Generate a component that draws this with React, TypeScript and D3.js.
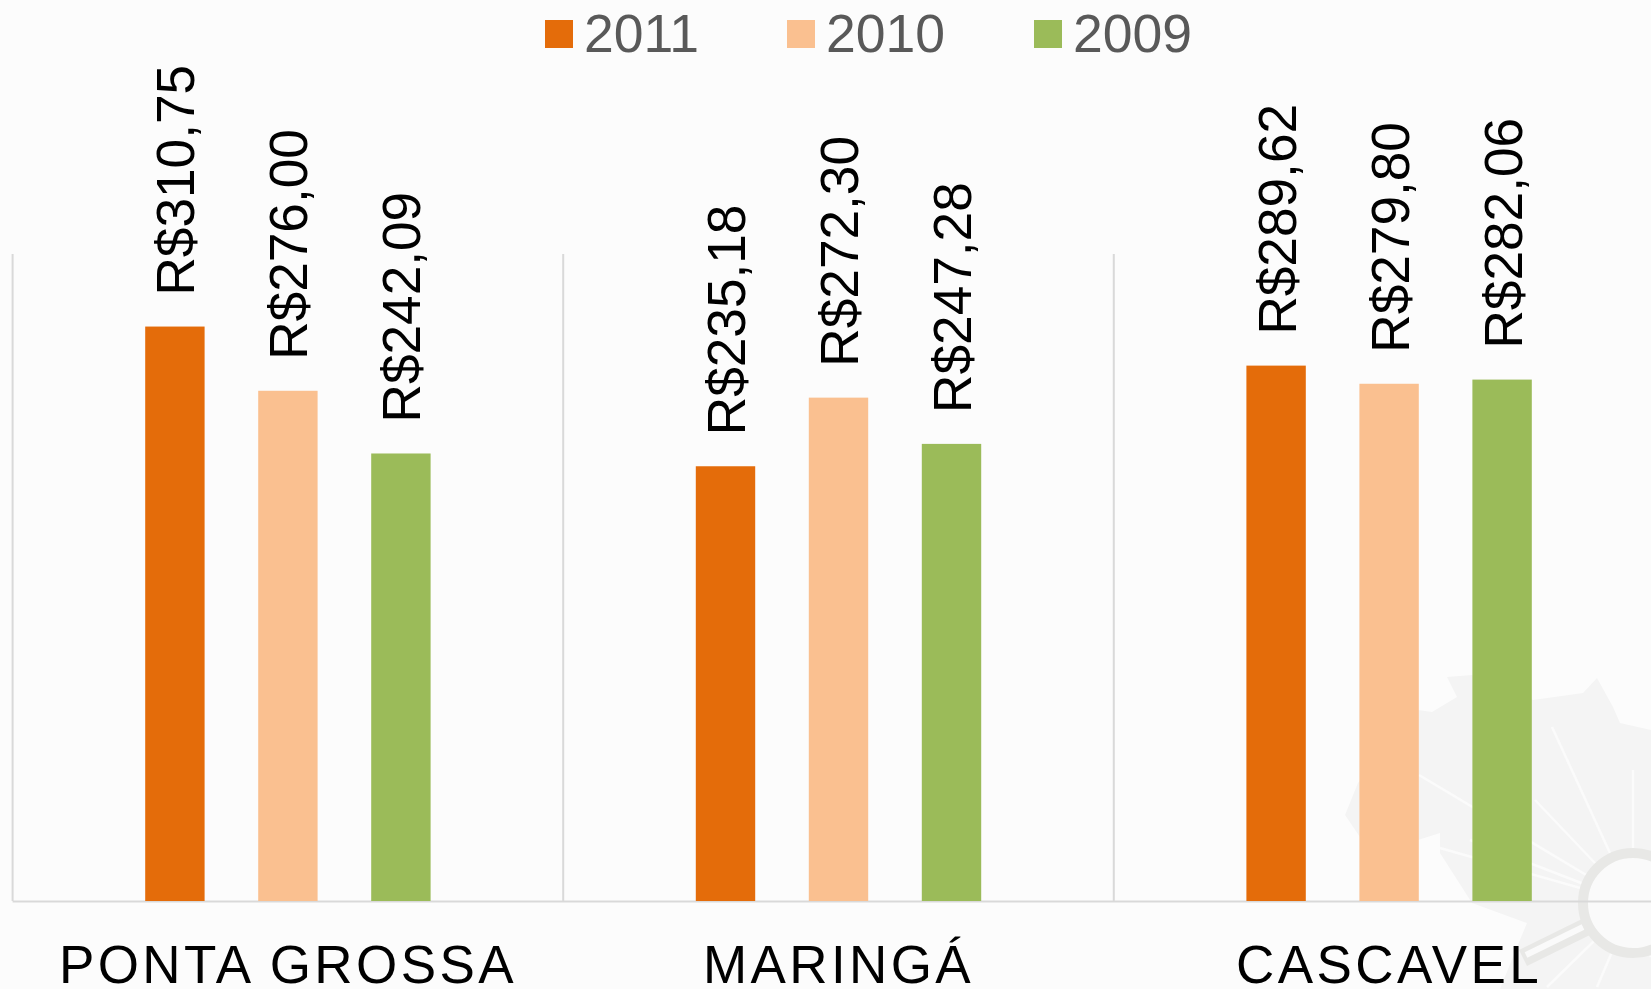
import React from "react";
import * as d3 from "d3";

const categories = ["PONTA GROSSA", "MARINGÁ", "CASCAVEL"];
const seriesNames = ["2011", "2010", "2009"];
const values2011 = [310.75, 235.18, 289.62];
const values2010 = [276.0, 272.3, 279.8];
const values2009 = [242.09, 247.28, 282.06];
const seriesColors = ["#E46C0A", "#FAC090", "#9BBB59"];
const legendSwatchX = [545, 787, 1034];

const W = 1651, H = 989;
const plotLeft = 12.6, step = 550.6, baseY = 901, topY = 254;

const x0 = d3.scaleBand<string>().domain(categories).range([plotLeft, plotLeft + step * 3]).paddingInner(0).paddingOuter(0);
const y = d3.scaleLinear().domain([0, 350]).range([baseY, topY]);
const pitch = 113, barW = 59.4;
const fmt = (v: number) => "R$" + v.toFixed(2).replace(".", ",");
const font = "'Liberation Sans', Arial, sans-serif";

const allSeries = [values2011, values2010, values2009];
const mapPts: [number, number][] = [[1447,677],[1472,675],[1533,700],[1583,693],[1597,678],[1613,707],[1620,723],[1651,730],[1651,989],[1500,989],[1517,947],[1527,923],[1472,903],[1440,853],[1440,833],[1418,840],[1360,837],[1345,815],[1358,783],[1418,710],[1432,712],[1457,697]];
const rays: [number, number][] = [[1552,727],[1633,770],[1419,775],[1440,848],[1535,800],[1470,840],[1580,903],[1547,987],[1597,987],[1651,957]];

export default function App() {
  const line = d3.line();
  const c = [1633, 903];
  return (
    <svg width={W} height={H} style={{ position: "absolute", left: 0, top: 0, background: "#FCFCFC" }}>
      <g>
        <path d={line(mapPts)! + "Z"} fill="#F4F4F4" />
        {rays.map((r, i) => (
          <line key={i} x1={r[0]} y1={r[1]} x2={c[0]} y2={c[1]} stroke="#FBFBFB" strokeWidth={2.5} />
        ))}
        <line x1={1523} y1={958} x2={1590} y2={925} stroke="#E8E8E6" strokeWidth={18} />
        <line x1={1526} y1={955} x2={1583} y2={927} stroke="#FAFAFA" strokeWidth={6} />
        <circle cx={c[0]} cy={c[1]} r={50} fill="#FAFAFA" stroke="#E8E8E6" strokeWidth={10} />
      </g>
      {[0, 1, 2, 3].map((i) => (
        <line key={i} x1={plotLeft + i * step} x2={plotLeft + i * step} y1={topY} y2={baseY} stroke="#D9D9D9" strokeWidth={2} />
      ))}
      <line x1={plotLeft} x2={W} y1={baseY + 0.5} y2={baseY + 0.5} stroke="#D9D9D9" strokeWidth={2} />
      {categories.map((cat, ci) => {
        const cx = x0(cat)! + x0.bandwidth() / 2;
        return (
          <g key={cat}>
            {allSeries.map((vals, si) => {
              const bx = cx + (si - 1) * pitch;
              return (
                <g key={si}>
                  <rect x={bx - barW / 2} y={y(vals[ci])} width={barW} height={baseY - y(vals[ci])} fill={seriesColors[si]} />
                  <text
                    transform={`translate(${bx + 19.5},${y(vals[ci]) - 31}) rotate(-90)`}
                    fontFamily={font}
                    fontSize={53.2}
                    fill="#000"
                  >
                    {fmt(vals[ci])}
                  </text>
                </g>
              );
            })}
            <text x={cx} y={983} textAnchor="middle" fontFamily={font} fontSize={53} letterSpacing={3.4} fill="#000">
              {cat}
            </text>
          </g>
        );
      })}
      {seriesNames.map((n, i) => (
        <g key={n}>
          <rect x={legendSwatchX[i]} y={20} width={28} height={28} fill={seriesColors[i]} />
          <text x={legendSwatchX[i] + 39} y={52} fontFamily={font} fontSize={53.5} fill="#595959">
            {n}
          </text>
        </g>
      ))}
    </svg>
  );
}
